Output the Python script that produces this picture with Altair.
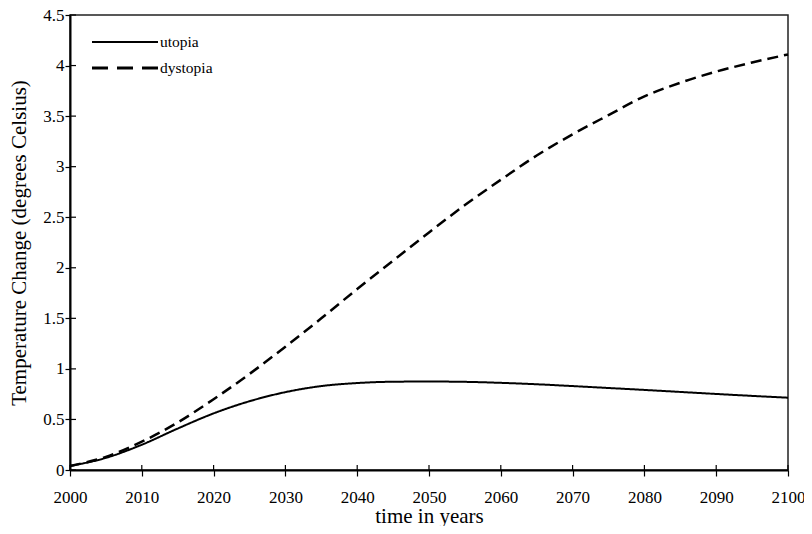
import altair as alt
import pandas as pd

years = [2000, 2005, 2010, 2015, 2020, 2025, 2030, 2035, 2040, 2045, 2050,
         2055, 2060, 2065, 2070, 2075, 2080, 2085, 2090, 2095, 2100]
utopia = [0.04, 0.12, 0.25, 0.41, 0.56, 0.68, 0.77, 0.83, 0.86, 0.873, 0.875,
          0.872, 0.862, 0.848, 0.830, 0.811, 0.792, 0.772, 0.752, 0.733, 0.715]
dystopia = [0.04, 0.13, 0.28, 0.47, 0.70, 0.95, 1.22, 1.50, 1.79, 2.07, 2.35,
            2.62, 2.87, 3.11, 3.32, 3.51, 3.695, 3.83, 3.94, 4.03, 4.11]
x_ticks = [2000, 2010, 2020, 2030, 2040, 2050, 2060, 2070, 2080, 2090, 2100]
y_ticks = [0, 0.5, 1, 1.5, 2, 2.5, 3, 3.5, 4, 4.5]
series_names = ["utopia", "dystopia"]

W, H = 718, 455
FONT = "Liberation Serif, Times New Roman, Times, DejaVu Serif, serif"

df = pd.DataFrame({
    "year": years * 2,
    "temp": utopia + dystopia,
    "series": [series_names[0]] * len(years) + [series_names[1]] * len(years),
})

xscale = alt.Scale(domain=[2000, 2100], nice=False, zero=False)
yscale = alt.Scale(domain=[0, 4.5], nice=False)

lines = alt.Chart(df).mark_line(color="black", interpolate="monotone").encode(
    x=alt.X("year:Q", scale=xscale,
            axis=alt.Axis(values=x_ticks, format="d", title="time in years",
                          grid=False, domainColor="black", domainWidth=2,
                          tickColor="black", tickWidth=1.2, tickSize=6,
                          labelFont=FONT, labelFontSize=17, labelColor="black",
                          labelPadding=26, labelBaseline="alphabetic", labelFlush=False,
                          titleFont=FONT, titleFontSize=21, titleFontWeight="normal",
                          titleColor="black", titleX=W / 2, titleY=52,
                          titleBaseline="alphabetic")),
    y=alt.Y("temp:Q", scale=yscale,
            axis=alt.Axis(values=y_ticks, format="~g",
                          title="Temperature Change (degrees Celsius)",
                          grid=False, domainColor="black", domainWidth=2,
                          tickColor="black", tickWidth=1.2, tickSize=5,
                          labelFont=FONT, labelFontSize=17, labelColor="black",
                          labelPadding=1, labelFlush=False,
                          titleFont=FONT, titleFontSize=21, titleFontWeight="normal",
                          titleColor="black", titleX=-51, titleY=H / 2,
                          titleAngle=270, titleAlign="center",
                          titleBaseline="middle")),
    strokeDash=alt.StrokeDash("series:N",
                              scale=alt.Scale(domain=series_names, range=[[1, 0], [11, 6]]),
                              legend=None),
    strokeWidth=alt.StrokeWidth("series:N",
                                scale=alt.Scale(domain=series_names, range=[2, 2.5]),
                                legend=None),
)

xt = pd.DataFrame({"t": x_ticks})
yt = pd.DataFrame({"v": y_ticks})
inner_x = alt.Chart(xt).mark_rule(color="black", strokeWidth=1.2).encode(
    x=alt.X("t:Q", scale=xscale), y=alt.value(H), y2=alt.value(H - 5))
inner_y = alt.Chart(yt).mark_rule(color="black", strokeWidth=1.2).encode(
    y=alt.Y("v:Q", scale=yscale), x=alt.value(0), x2=alt.value(6))

leg_u_line = alt.Chart(pd.DataFrame({"s": [series_names[0]]})).mark_rule(
    color="black", strokeWidth=2).encode(x=alt.value(22), x2=alt.value(88), y=alt.value(27))
leg_d_line = alt.Chart(pd.DataFrame({"s": [series_names[1]]})).mark_rule(
    color="black", strokeWidth=3, strokeDash=[16, 9]).encode(
    x=alt.value(22), x2=alt.value(88), y=alt.value(53))
leg_u_text = alt.Chart(pd.DataFrame({"s": [series_names[0]]})).mark_text(
    font=FONT, fontSize=15.5, align="left", baseline="middle", color="black").encode(
    x=alt.value(90), y=alt.value(27), text="s:N")
leg_d_text = alt.Chart(pd.DataFrame({"s": [series_names[1]]})).mark_text(
    font=FONT, fontSize=15.5, align="left", baseline="middle", color="black").encode(
    x=alt.value(90), y=alt.value(53), text="s:N")

chart = alt.layer(lines, inner_x, inner_y, leg_u_line, leg_d_line, leg_u_text, leg_d_text).properties(
    width=W, height=H,
    autosize=alt.AutoSizeParams(type="none"),
    padding={"left": 62, "top": 7, "right": 16, "bottom": 56},
    background="white",
).configure_view(stroke="#222", strokeWidth=1.5)

chart.save("out.html", embed_options={"renderer": "svg", "actions": False})
